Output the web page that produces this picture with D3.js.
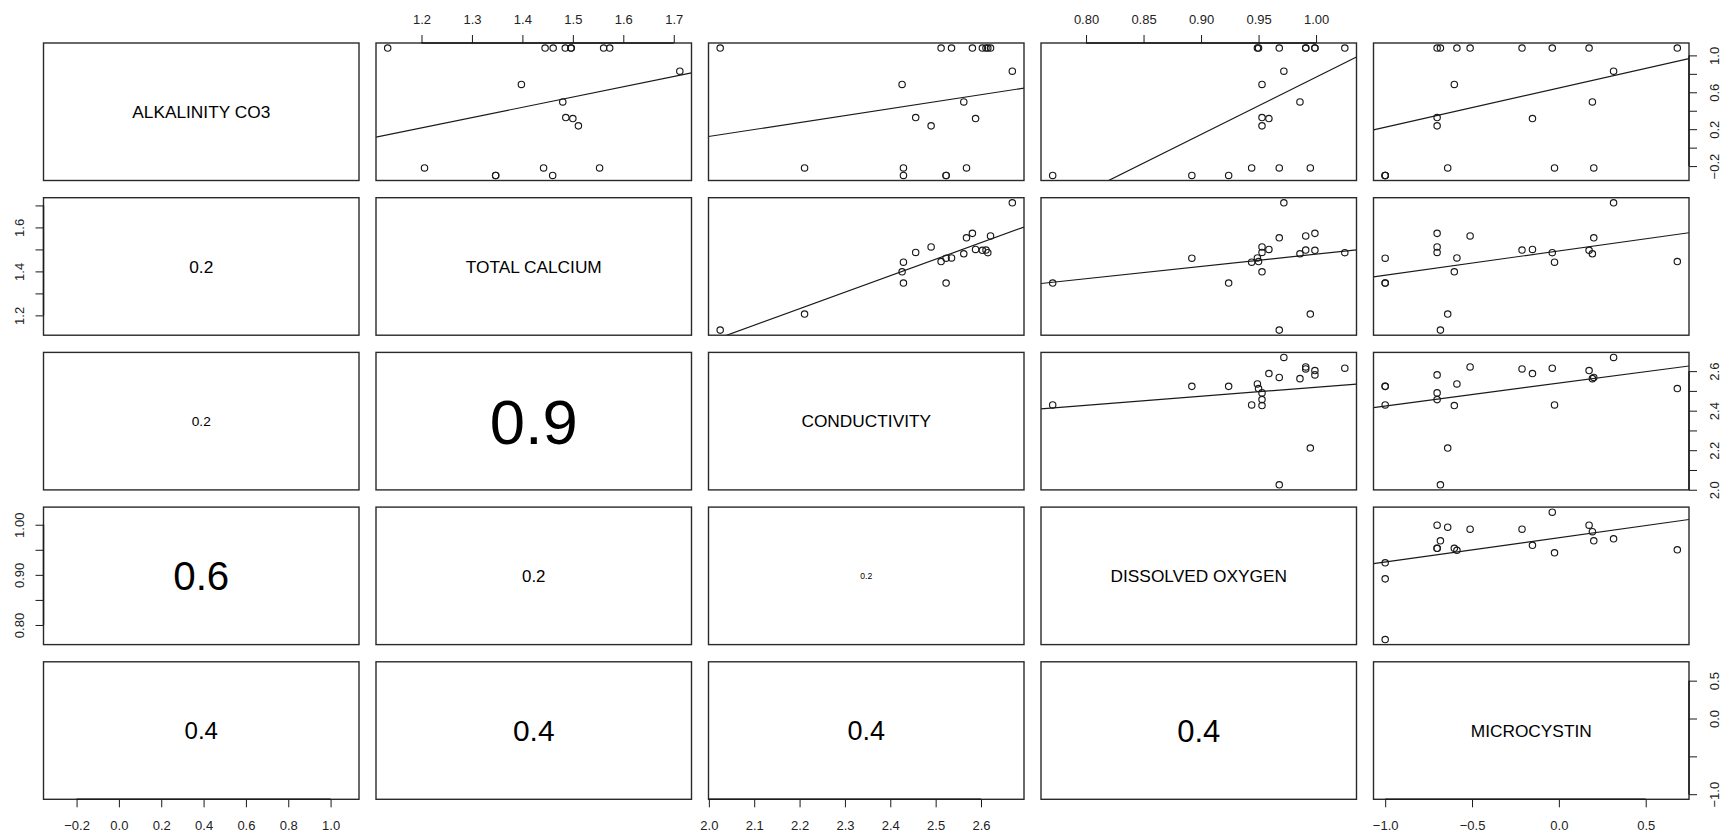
<!DOCTYPE html>
<html>
<head>
<meta charset="utf-8">
<script src="https://cdn.jsdelivr.net/npm/d3@7"></script>
<style>
  html, body { margin: 0; padding: 0; background: #fff; }
  svg text { font-family: "Liberation Sans", Arial, Helvetica, sans-serif; fill: #000; }
</style>
</head>
<body>
<svg id="chart" width="1734" height="840"></svg>
<script>
// ---- data: one value per sample, log10 scale ----
const variableNames = ["ALKALINITY CO3", "TOTAL CALCIUM", "CONDUCTIVITY", "DISSOLVED OXYGEN", "MICROCYSTIN"];

const alkalinity   = [1.079, 1.079, 1.079, 1.079, 1.079, 1.079, 1.079, 1.079, 0.829, 0.685,
                      0.495, 0.326, 0.315, 0.236, -0.220, -0.220, -0.220, -0.301, -0.301, -0.301];
const calcium      = [1.133, 1.445, 1.461, 1.573, 1.561, 1.497, 1.485, 1.496, 1.712, 1.398,
                      1.480, 1.486, 1.500, 1.511, 1.206, 1.442, 1.553, 1.347, 1.347, 1.460];
const conductivity = [2.025, 2.512, 2.535, 2.581, 2.621, 2.611, 2.615, 2.603, 2.669, 2.426,
                      2.562, 2.456, 2.588, 2.490, 2.211, 2.429, 2.568, 2.429, 2.523, 2.523];
const oxygen       = [0.968, 0.950, 0.949, 0.999, 0.991, 0.991, 1.025, 0.999, 0.972, 0.953,
                      0.986, 0.953, 0.959, 0.953, 0.995, 0.944, 0.968, 0.771, 0.924, 0.892];
const microcystin  = [-0.682, 0.682, -0.587, -0.701, -0.511, -0.212, -0.038, 0.174, 0.315, -0.602,
                      0.193, -0.701, -0.152, -0.701, -0.640, -0.025, 0.201, -1.0, -1.0, -1.0];

// tick values for each variable, and which of them carry a label on vertical axes
const alkalinityTicks   = [-0.2, 0.0, 0.2, 0.4, 0.6, 0.8, 1.0];
const calciumTicks      = [1.2, 1.3, 1.4, 1.5, 1.6, 1.7];
const conductivityTicks = [2.0, 2.1, 2.2, 2.3, 2.4, 2.5, 2.6];
const oxygenTicks       = [0.80, 0.85, 0.90, 0.95, 1.00];
const microcystinTicks  = [-1.0, -0.5, 0.0, 0.5];

const alkalinityYLabels   = [-0.2, 0.2, 0.6, 1.0];
const calciumYLabels      = [1.2, 1.4, 1.6];
const conductivityYLabels = [2.0, 2.2, 2.4, 2.6];
const oxygenYLabels       = [0.80, 0.90, 1.00];
const microcystinYLabels  = [-1.0, 0.0, 0.5];

const tickDecimals = [1, 1, 1, 2, 1];

// lower triangle: [row, col], printed coefficient, and |r| that scales the text
const corCells   = [[1,0],[2,0],[2,1],[3,0],[3,1],[3,2],[4,0],[4,1],[4,2],[4,3]];
const corLabels  = ["0.2","0.2","0.9","0.6","0.2","0.2","0.4","0.4","0.4","0.4"];
const corWeights = [0.24, 0.19, 0.88, 0.56, 0.235, 0.12, 0.335, 0.415, 0.375, 0.43];

// ---- layout ----
const variables = [alkalinity, calcium, conductivity, oxygen, microcystin];
const tickSets  = [alkalinityTicks, calciumTicks, conductivityTicks, oxygenTicks, microcystinTicks];
const yLabelSets = [alkalinityYLabels, calciumYLabels, conductivityYLabels, oxygenYLabels, microcystinYLabels];
const nVar = variables.length;

const left0 = 43.5, top0 = 43, cellW = 315.5, cellH = 137.5, gapX = 17, gapY = 17.2;
const colX = j => left0 + j * (cellW + gapX);
const rowY = i => top0 + i * (cellH + gapY);

// axis ranges widened by 4% at each end
function paddedDomain(v) {
  const [a, b] = d3.extent(v);
  const r = b - a;
  return [a - 0.04 * r, b + 0.04 * r];
}

const xScales = variables.map((v, j) => d3.scaleLinear().domain(paddedDomain(v)).range([colX(j), colX(j) + cellW]));
const yScales = variables.map((v, i) => d3.scaleLinear().domain(paddedDomain(v)).range([rowY(i) + cellH, rowY(i)]));

const svg = d3.select("#chart");
const defs = svg.append("defs");
const ink = "#1a1a1a";

function fitLine(x, y) {
  const mx = d3.mean(x), my = d3.mean(y);
  let sxy = 0, sxx = 0;
  x.forEach((xv, k) => { sxy += (xv - mx) * (y[k] - my); sxx += (xv - mx) * (xv - mx); });
  const b = sxy / sxx;
  return { a: my - b * mx, b };
}

for (let i = 0; i < nVar; i++) {
  for (let j = 0; j < nVar; j++) {
    const x0 = colX(j), y0 = rowY(i);
    const g = svg.append("g").attr("class", `cell r${i} c${j}`);
    const clipId = `clip-${i}-${j}`;
    defs.append("clipPath").attr("id", clipId)
      .append("rect").attr("x", x0).attr("y", y0).attr("width", cellW).attr("height", cellH);

    if (i === j) {
      g.append("text")
        .attr("x", x0 + cellW / 2).attr("y", y0 + cellH / 2)
        .attr("dy", "0.36em")
        .attr("text-anchor", "middle")
        .attr("font-size", "17.3px")
        .text(variableNames[i]);
    } else if (i < j) {
      const xv = variables[j], yv = variables[i];
      const xs = xScales[j], ys = yScales[i];
      const inner = g.append("g").attr("clip-path", `url(#${clipId})`);
      const fit = fitLine(xv, yv);
      const [d0, d1] = xs.domain();
      inner.append("line")
        .attr("x1", xs(d0)).attr("y1", ys(fit.a + fit.b * d0))
        .attr("x2", xs(d1)).attr("y2", ys(fit.a + fit.b * d1))
        .attr("stroke", ink).attr("stroke-width", 1.2);
      inner.selectAll("circle")
        .data(xv.map((v, k) => [v, yv[k]]))
        .join("circle")
        .attr("cx", d => xs(d[0])).attr("cy", d => ys(d[1]))
        .attr("r", 3.2)
        .attr("fill", "none").attr("stroke", ink).attr("stroke-width", 1.15);
    }

    g.append("rect")
      .attr("x", x0).attr("y", y0).attr("width", cellW).attr("height", cellH)
      .attr("fill", "none").attr("stroke", "#2a2a2a").attr("stroke-width", 1.4);
  }
}

// correlation coefficients, text size proportional to |r|
corCells.forEach(([i, j], k) => {
  svg.append("text")
    .attr("x", colX(j) + cellW / 2).attr("y", rowY(i) + cellH / 2)
    .attr("dy", "0.36em")
    .attr("text-anchor", "middle")
    .attr("font-size", (72 * corWeights[k]).toFixed(1) + "px")
    .text(corLabels[k]);
});

// ---- axes ----
function styleAxis(ag, ticks, scale, horizontal) {
  ag.select(".domain").remove();
  ag.attr("font-family", null).attr("font-size", null);
  ag.selectAll(".tick line").attr("stroke", ink).attr("stroke-width", 1);
  ag.selectAll(".tick text").attr("font-size", "13px").style("fill", "#222");
  const a = scale(ticks[0]), b = scale(ticks[ticks.length - 1]);
  if (horizontal) ag.append("line").attr("x1", a).attr("x2", b).attr("y1", 0).attr("y2", 0);
  else ag.append("line").attr("y1", a).attr("y2", b).attr("x1", 0).attr("x2", 0);
  ag.select(":scope > line").attr("stroke", ink).attr("stroke-width", 1.4);
}

for (let j = 0; j < nVar; j++) {
  const fmt = d3.format(`.${tickDecimals[j]}f`);
  const bottom = j % 2 === 0;
  const axis = (bottom ? d3.axisBottom(xScales[j]) : d3.axisTop(xScales[j]))
    .tickValues(tickSets[j]).tickFormat(fmt).tickSize(8).tickSizeOuter(0);
  const ag = svg.append("g")
    .attr("transform", `translate(0,${bottom ? rowY(nVar - 1) + cellH : rowY(0)})`)
    .call(axis);
  styleAxis(ag, tickSets[j], xScales[j], true);
  ag.selectAll(".tick text").attr("dy", null).attr("y", bottom ? 31 : -19.5);
}

for (let i = 0; i < nVar; i++) {
  const fmt = d3.format(`.${tickDecimals[i]}f`);
  const right = i % 2 === 0;
  const shown = new Set(yLabelSets[i].map(v => v.toFixed(3)));
  const axis = (right ? d3.axisRight(yScales[i]) : d3.axisLeft(yScales[i]))
    .tickValues(tickSets[i])
    .tickFormat(v => shown.has(v.toFixed(3)) ? fmt(v) : "")
    .tickSize(8).tickSizeOuter(0);
  const ag = svg.append("g")
    .attr("transform", `translate(${right ? colX(nVar - 1) + cellW : colX(0)},0)`)
    .call(axis);
  styleAxis(ag, tickSets[i], yScales[i], false);
  ag.selectAll(".tick text")
    .attr("x", 0).attr("y", 0).attr("dy", null)
    .attr("text-anchor", "middle")
    .attr("transform", `translate(${right ? 29.5 : -19.5},0) rotate(-90)`);
}
</script>
</body>
</html>
